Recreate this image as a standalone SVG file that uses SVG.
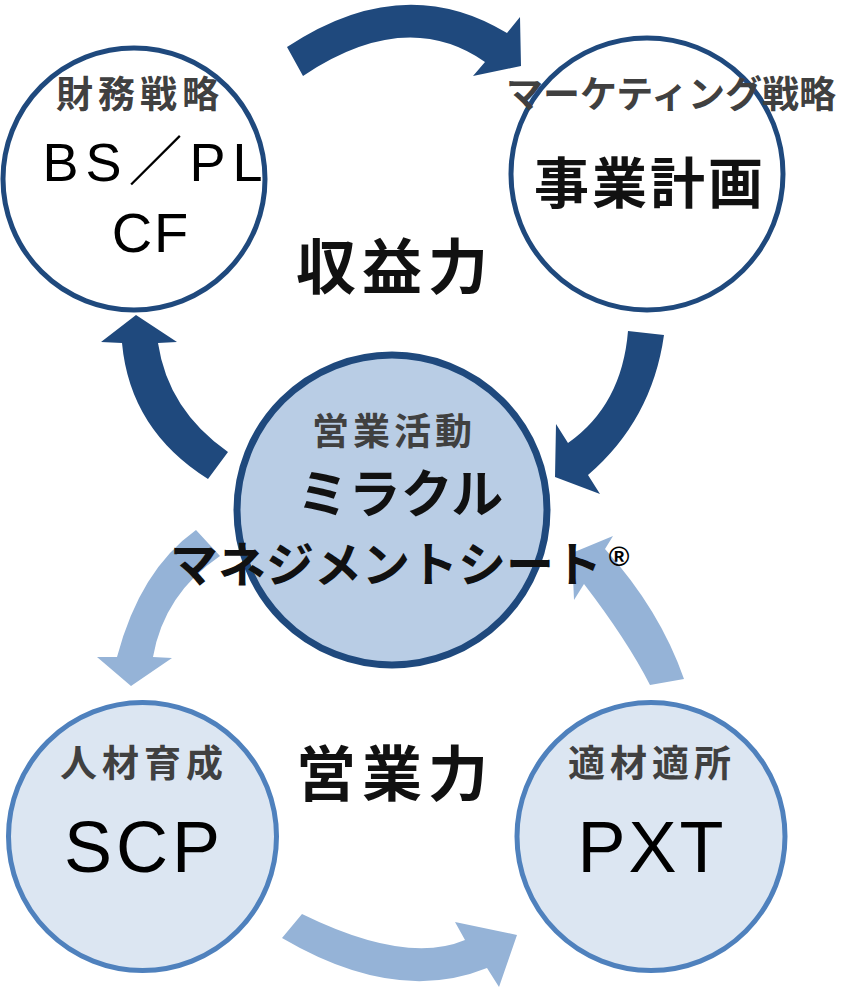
<svg xmlns="http://www.w3.org/2000/svg" width="868" height="994" viewBox="0 0 868 994">
<style>
.dark{fill:#1F497D}
.light{fill:#95B3D7}
.c-top{fill:#FFFFFF;stroke:#1F497D;stroke-width:5}
.c-mid{fill:#B9CDE5;stroke:#1F497D;stroke-width:7}
.c-bot{fill:#DCE6F2;stroke:#4F81BD;stroke-width:5}
.sub{font-family:"Noto Sans CJK JP",sans-serif;font-weight:700;fill:#404040;font-size:37px;text-anchor:middle}
.jp{font-family:"Noto Sans CJK JP",sans-serif;font-weight:700;fill:#111111;text-anchor:middle}
.en{font-family:"Liberation Sans","Noto Sans CJK JP",sans-serif;fill:#000000;text-anchor:middle}
</style>
<g id="connectors">
<path class="dark" d="M287,47 Q403,-30 507,33 L520,17 L521,66 L473,76 L485,62 Q406,7 303,76 Z"/>
<path class="dark" d="M628,331 L664,335 Q652,420 588,475 L600,494 L555,477 L556,424 L568,443 Q622,405 628,331 Z"/>
<path class="dark" d="M228,452 Q168,410 158,343 L177,342 L136,315 L101,342 L122,343 Q130,430 208,479 Z"/>
<path class="light" d="M196,530 L220,556 Q164,594 153,657 L172,658 L131,686 L97,657 L117,657 Q140,570 196,530 Z"/>
<path class="light" d="M650,685 L684,679 Q660,610 605,549 L613,536 L572,553 L574,600 L584,584 Q627,640 650,685 Z"/>
<path class="light" d="M302,914 Q406,965 465,940 L455,922 L517,935 L499,987 L487,968 Q396,1005 282,938 Z"/>
</g>
<g id="node-finance">
<circle class="c-top" cx="134" cy="179" r="131"/>
<text class="sub" x="140" y="108" letter-spacing="5">財務戦略</text>
<text class="en" x="156" y="181" font-size="54" letter-spacing="7">BS／PL</text>
<text class="en" x="151" y="252" font-size="56" letter-spacing="2">CF</text>
</g>
<g id="node-marketing">
<circle class="c-top" cx="647" cy="174" r="136"/>
<text class="sub" x="671" y="108">マーケティング戦略</text>
<text class="jp" x="650" y="203" font-size="55" letter-spacing="3">事業計画</text>
</g>
<g id="label-profit">
<text class="jp" x="395" y="289" font-size="60" letter-spacing="6">収益力</text>
</g>
<g id="node-sales">
<circle class="c-mid" cx="392" cy="510" r="155"/>
<text class="sub" x="394" y="445" letter-spacing="4">営業活動</text>
<text class="jp" x="400" y="513" font-size="52">ミラクル</text>
<text class="jp" x="386" y="582" font-size="48">マネジメントシート</text>
<text class="en" x="619" y="566" font-size="28" font-weight="700">®</text>
</g>
<g id="node-scp">
<circle class="c-bot" cx="142.5" cy="836.5" r="134"/>
<text class="sub" x="144" y="777" letter-spacing="5">人材育成</text>
<text class="en" x="144" y="872" font-size="72" letter-spacing="4">SCP</text>
</g>
<g id="label-salesforce">
<text class="jp" x="395" y="796" font-size="60" letter-spacing="6">営業力</text>
</g>
<g id="node-pxt">
<circle class="c-bot" cx="651" cy="836.5" r="134"/>
<text class="sub" x="652" y="777" letter-spacing="5">適材適所</text>
<text class="en" x="652" y="872" font-size="72" letter-spacing="3">PXT</text>
</g>
</svg>
